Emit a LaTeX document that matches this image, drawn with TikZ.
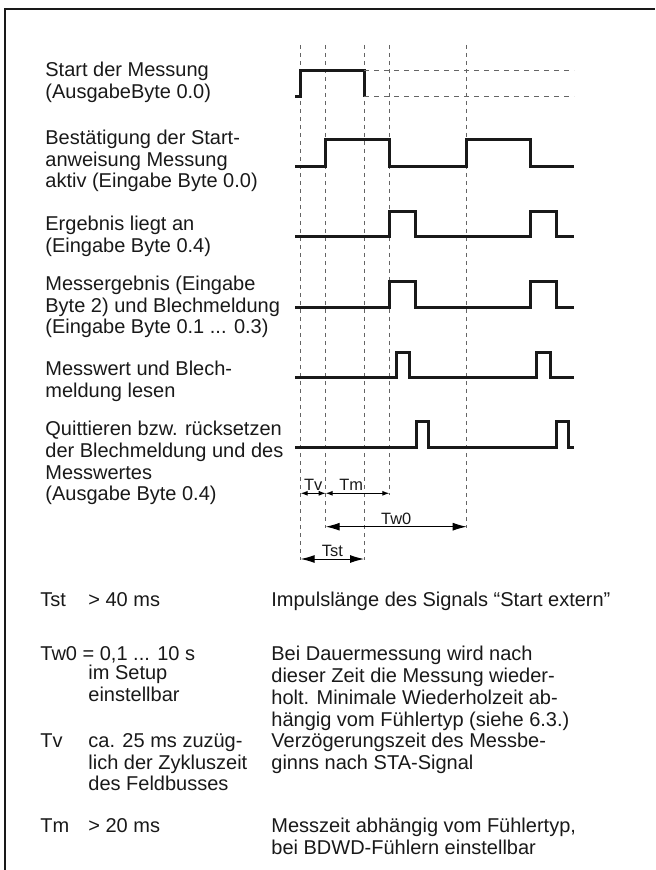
\documentclass[tikz,border=0pt]{standalone}
\usepackage{fontspec}
\setmainfont{Liberation Sans}
\usetikzlibrary{arrows.meta,positioning}
\definecolor{GuideGray}{RGB}{100,100,100}
\definecolor{InkBlack}{RGB}{25,25,25}
\newcommand{\labelfont}{\fontsize{10}{10.85}\selectfont}

\begin{document}
\begin{tikzpicture}[x=0.5pt, y=-0.5pt,
    signal/.style={line width=1.5pt, InkBlack},
    guide/.style={GuideGray, line width=0.5pt, dash pattern=on 2pt off 2pt},
    level/.style={GuideGray, line width=0.5pt, dash pattern=on 2.5pt off 2.5pt},
    bigdim/.style={line width=0.5pt, {Latex[length=7pt,width=4pt]}-{Latex[length=7pt,width=4pt]}},
    smalldim/.style={line width=0.5pt, {Latex[length=3.5pt,width=2.5pt]}-{Latex[length=3.5pt,width=2.5pt]}},
    sig label/.style={anchor=west, inner sep=0pt, align=left, text=InkBlack, font=\labelfont},
    dim label/.style={inner sep=1pt, text=InkBlack, font=\fontsize{8.2}{9}\selectfont},
    legend/.style={anchor=north west, inner sep=0pt, align=left, text=InkBlack, font=\labelfont}]

  \useasboundingbox (0,0) rectangle (655,870);

  % frame
  \draw[line width=1pt, InkBlack] (5,870) -- (5,9) -- (655,9);

  % time marks
  \foreach \t/\e in {300.7/560, 325.7/528, 364/560, 389.3/495, 466.7/528} {
    \draw[guide] (\t,45) -- (\t,\e);
  }

  % signals
  \draw[signal] (295,97) -| (300.7,71) -| (364,97);
  \draw[level] (364,71) -- (574,71);
  \draw[level] (364,97) -- (574,97);
  \draw[signal] (295,166.7) -| (325.7,140) -| (389.3,166.7) -| (466.7,140) -| (530,166.7) -- (574,166.7);
  \draw[signal] (295,236.7) -| (389.3,211.7) -| (415.7,236.7) -| (530,211.7) -| (556,236.7) -- (574,236.7);
  \draw[signal] (295,307.3) -| (389.3,281.7) -| (415.7,307.3) -| (530,281.7) -| (556,307.3) -- (574,307.3);
  \draw[signal] (295,377.7) -| (396,352.3) -| (409.3,377.7) -| (536.7,352.3) -| (550,377.7) -- (574,377.7);
  \draw[signal] (295,447.7) -| (416,421.7) -| (428.3,447.7) -| (556,421.7) -| (568.3,447.7) -- (574,447.7);

  % signal names
  \node[sig label] (start) at (45,82.5) {Start der Messung\\(AusgabeByte 0.0)};
  \node[sig label] (ack) at (45,161) {Bestätigung der Start-\\anweisung Messung\\aktiv (Eingabe Byte 0.0)};
  \node[sig label] (ready) at (45,236.5) {Ergebnis liegt an\\(Eingabe Byte 0.4)};
  \node[sig label] (result) at (45,307) {Messergebnis (Eingabe\\Byte 2) und Blechmeldung\\(Eingabe Byte 0.1 ... 0.3)};
  \node[sig label] (read) at (45,381) {Messwert und Blech-\\meldung lesen};
  \node[sig label] (reset) at (45,463) {Quittieren bzw. rücksetzen\\der Blechmeldung und des\\Messwertes\\(Ausgabe Byte 0.4)};

  % durations
  \coordinate (tvA) at (300.7,493.3);
  \coordinate (tvB) at (325.7,493.3);
  \coordinate (tmB) at (389.3,493.3);
  \coordinate (twA) at (325.7,526.7);
  \coordinate (twB) at (466.7,526.7);
  \coordinate (tsA) at (300.7,559);
  \coordinate (tsB) at (364,559);
  \draw[smalldim] (tvA) -- node[dim label, above] (tv) {Tv} (tvB);
  \draw[smalldim] (tvB) -- node[dim label, above, pos=0.4] (tm) {Tm} (tmB);
  \draw[bigdim] (twA) -- node[dim label, above] (tw) {Tw0} (twB);
  \draw[bigdim] (tsA) -- node[dim label, above] (ts) {Tst} (tsB);

  % legend
  \node[legend] (tstName) at (40,592) {Tst};
  \node[legend] (tstVal) at (88,592) {> 40 ms};
  \node[legend] (tstText) at (271,592) {Impulslänge des Signals “Start extern”};

  \node[legend] (twName) at (40,646) {Tw0 = 0,1 ... 10 s};
  \node[legend, below=0.6pt of twName.south west, anchor=north west, xshift=24pt] (twVal) {im Setup\\einstellbar};
  \node[legend] (twText) at (271,646) {Bei Dauermessung wird nach\\dieser Zeit die Messung wieder-\\holt. Minimale Wiederholzeit ab-\\hängig vom Fühlertyp (siehe 6.3.)};

  \node[legend] (tvName) at (40,733) {Tv};
  \node[legend] (tvVal) at (88,733) {ca. 25 ms zuzüg-\\lich der Zykluszeit\\des Feldbusses};
  \node[legend] (tvText) at (271,733) {Verzögerungszeit des Messbe-\\ginns nach STA-Signal};

  \node[legend] (tmName) at (40,818) {Tm};
  \node[legend] (tmVal) at (88,818) {> 20 ms};
  \node[legend] (tmText) at (271,818) {Messzeit abhängig vom Fühlertyp,\\bei BDWD-Fühlern einstellbar};
\end{tikzpicture}
\end{document}
